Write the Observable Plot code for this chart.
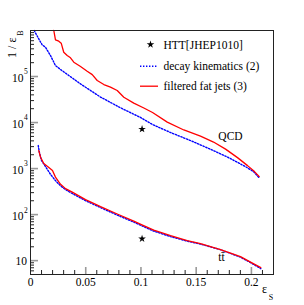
<!DOCTYPE html>
<html><head><meta charset="utf-8">
<script src="https://cdn.jsdelivr.net/npm/d3@7"></script>
<script src="https://cdn.jsdelivr.net/npm/@observablehq/plot@0.6"></script>
<style>body{margin:0;background:#fff;}</style>
</head><body><div id="chart"></div>
<script>
// ---- data ----
const qcdFilteredEps = [0.0211,0.0226,0.0256,0.0278,0.0301,0.0332,0.0362,0.0392,0.0453,0.0513,0.0559,0.0604,0.0664,0.0724,0.0785,0.0845,0.0935,0.1026,0.1105,0.1238,0.1388,0.1539,0.1657,0.1766,0.1874,0.1965,0.2028,0.2071];
const qcdFilteredVal = [1e6,6.28e5,5.85e5,5.3e5,3.37e5,2.86e5,2.55e5,2.05e5,1.65e5,1.30e5,1.10e5,8.2e4,6.7e4,5.9e4,4.96e4,3.55e4,2.65e4,2.07e4,1.65e4,1.02e4,6.9e3,5.09e3,3.77e3,2.65e3,1.73e3,1.16e3,861,670];
const qcdDecayEps = [0.0033,0.0070,0.0091,0.0106,0.0136,0.0181,0.0226,0.0272,0.0332,0.0453,0.0634,0.0815,0.0996,0.1105,0.1268,0.1449,0.1657,0.1811,0.1947,0.2019,0.2069];
const qcdDecayVal = [1e6,6.9e5,5.6e5,4.9e5,4.3e5,2.86e5,1.73e5,1.42e5,1.12e5,6.9e4,3.58e4,2.09e4,1.29e4,9.05e3,6.07e3,4.06e3,2.46e3,1.65e3,1.10e3,860,637];
const ttFilteredEps = [0.0075,0.0091,0.0120,0.0166,0.0199,0.0226,0.0272,0.0317,0.0378,0.0498,0.0634,0.0785,0.0935,0.1014,0.1116,0.1268,0.1419,0.1539,0.1720,0.1901,0.1992,0.2085];
const ttFilteredVal = [2460,1760,1285,1052,906,653,456,367,308,212,149,103,72.3,59.2,46.0,34.9,27.2,23.4,17.3,12.2,9.27,7.05];
const ttDecayEps = [0.0070,0.0081,0.0100,0.0127,0.0181,0.0226,0.0272,0.0317,0.0362,0.0498,0.0634,0.0785,0.0935,0.1014,0.1116,0.1268,0.1419,0.1539,0.1720,0.1901,0.1992,0.2085];
const ttDecayVal = [3162,2230,1490,1190,751,548,421,349,301,201,142,97.5,68.7,56.2,43.8,33.3,26.5,22.9,17.3,11.9,9.05,6.7];
const httEps = [0.101, 0.101];
const httVal = [7200, 30];
const legendLabels = ["HTT[JHEP1010]", "decay kinematics (2)", "filtered fat jets (3)"];
const sampleLabels = ["QCD", "tt\u0304"];
const xTickValues = [0, 0.05, 0.1, 0.15, 0.2];
const xTickLabels = ["0", "0.05", "0.1", "0.15", "0.2"];
const xMinorTicks = [0.01,0.02,0.03,0.04,0.06,0.07,0.08,0.09,0.11,0.12,0.13,0.14,0.16,0.17,0.18,0.19,0.21];
const yTickValues = [10, 100, 1000, 10000, 100000];
const yTickExponents = ["", "2", "3", "4", "5"];

// ---- layout ----
const W = 304, H = 305, mL = 30, mR = 31, mT = 30, mB = 31;
const fw = W - mL - mR, fh = H - mT - mB;
const RED = "#ff0000", BLUE = "#0000ff";
const FONT = '"Liberation Serif", "Times New Roman", serif';

const yMinorTicks = [];
for (const dec of [1, 10, 100, 1000, 1e4, 1e5]) for (let m = 2; m <= 9; m++) { const v = m * dec; if (v >= 5 && v < 1e6) yMinorTicks.push(v); }

const toRows = (xs, ys) => xs.map((x, i) => ({x, y: ys[i]}));
const qcdF = toRows(qcdFilteredEps, qcdFilteredVal);
const qcdD = toRows(qcdDecayEps, qcdDecayVal);
const ttF = toRows(ttFilteredEps, ttFilteredVal);
const ttD = toRows(ttDecayEps, ttDecayVal);
const htt = toRows(httEps, httVal);

const dotted = {stroke: BLUE, strokeWidth: 1.4, strokeDasharray: "1.4,1.6"};
const solid = {stroke: RED, strokeWidth: 1.3};
const cy = (mT + H - mB) / 2;
const T = {fontFamily: FONT, lineAnchor: "middle"};

const chart = Plot.plot({
  width: W, height: H,
  marginLeft: mL, marginRight: mR, marginTop: mT, marginBottom: mB,
  style: {fontFamily: FONT, fontSize: "11.5px", background: "#fff", color: "#000", overflow: "visible"},
  x: {domain: [0, 0.22], axis: null},
  y: {type: "log", domain: [5, 1e6], axis: null},
  marks: [
    // ticks (inside)
    Plot.ruleX(xMinorTicks, {x: d => d, insetTop: fh - 4, stroke: "#222", strokeWidth: 1}),
    Plot.ruleX(xTickValues.slice(1), {x: d => d, insetTop: fh - 7, stroke: "#999", strokeWidth: 1.6}),
    Plot.ruleY(yMinorTicks, {y: d => d, insetRight: fw - 4, stroke: "#222", strokeWidth: 1}),
    Plot.ruleY(yTickValues, {y: d => d, insetRight: fw - 8, stroke: "#999", strokeWidth: 1.6}),
    // curves
    Plot.line(qcdD, {x: "x", y: "y", ...dotted}),
    Plot.line(qcdF, {x: "x", y: "y", ...solid}),
    Plot.line(ttD, {x: "x", y: "y", ...dotted}),
    Plot.line(ttF, {x: "x", y: "y", ...solid}),
    Plot.dot(htt, {x: "x", y: "y", symbol: "star", r: 2.4, fill: "#000", stroke: "none"}),
    Plot.frame({stroke: "#222", strokeWidth: 1}),
    // tick labels
    Plot.text(xTickValues, {x: d => d, frameAnchor: "bottom", dy: 8, textAnchor: "middle", text: (d, i) => xTickLabels[i], fontSize: 11.5, ...T}),
    Plot.text(yTickValues.slice(1), {y: d => d, frameAnchor: "left", dx: -7, dy: 1.5, textAnchor: "end", text: () => "10", fontSize: 11.5, ...T}),
    Plot.text(yTickValues.slice(1), {y: d => d, frameAnchor: "left", dx: -6.5, dy: -4.5, textAnchor: "start", text: (d, i) => yTickExponents[i + 1], fontSize: 7.5, ...T}),
    Plot.text(yTickValues.slice(0, 1), {y: d => d, frameAnchor: "left", dx: -3.5, dy: 0.5, textAnchor: "end", text: () => "10", fontSize: 11.5, ...T}),
    // axis titles
    Plot.text(["1 / \u03b5"], {frameAnchor: "top-left", dx: -18, dy: 7, rotate: -90, textAnchor: "end", text: d => d, fontSize: 12, ...T}),
    Plot.text(["B"], {frameAnchor: "top-left", dx: -10.5, dy: 2.5, rotate: -90, textAnchor: "middle", text: d => d, fontSize: 8, ...T}),
    Plot.text(["\u03b5"], {frameAnchor: "bottom-right", dx: -9, dy: 15, textAnchor: "middle", text: d => d, fontSize: 12, ...T}),
    Plot.text(["S"], {frameAnchor: "bottom-right", dx: -2.5, dy: 23, textAnchor: "middle", text: d => d, fontSize: 8, ...T}),
    // sample labels
    Plot.text([sampleLabels[0]], {frameAnchor: "top-left", dx: 200, dy: 105.5, textAnchor: "middle", text: d => d, fontSize: 11.5, ...T}),
    Plot.text([sampleLabels[1]], {frameAnchor: "top-left", dx: 191, dy: 227, textAnchor: "middle", text: d => d, fontSize: 11.5, ...T}),
    // legend
    Plot.dot([legendLabels[0]], {frameAnchor: "top-left", dx: 120, dy: 14, symbol: "star", r: 2.4, fill: "#000", stroke: "none"}),
    Plot.ruleY([legendLabels[1]], {y: null, insetLeft: 110, insetRight: fw - 128, dy: 65.7 - cy, ...dotted}),
    Plot.ruleY([legendLabels[2]], {y: null, insetLeft: 110, insetRight: fw - 128, dy: 85.7 - cy, ...solid}),
    Plot.text([legendLabels[0]], {frameAnchor: "top-left", dx: 133, dy: 15, text: d => d, textAnchor: "start", fontSize: 11.5, ...T}),
    Plot.text([legendLabels[1]], {frameAnchor: "top-left", dx: 133, dy: 35.7, text: d => d, textAnchor: "start", fontSize: 11.5, ...T}),
    Plot.text([legendLabels[2]], {frameAnchor: "top-left", dx: 133, dy: 55.7, text: d => d, textAnchor: "start", fontSize: 11.5, ...T})
  ]
});
document.getElementById("chart").appendChild(chart);
</script>
</body></html>
